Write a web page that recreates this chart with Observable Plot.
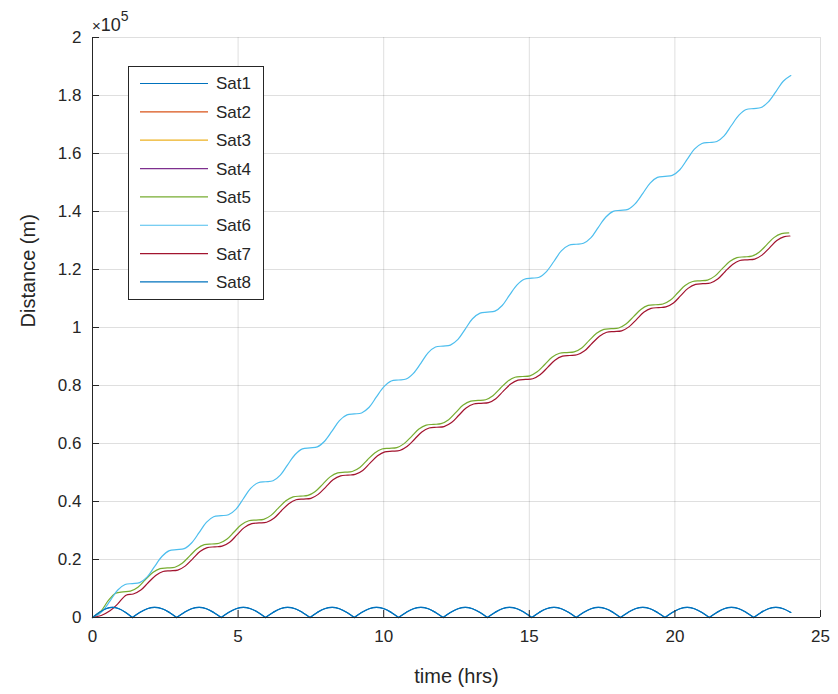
<!DOCTYPE html>
<html>
<head>
<meta charset="utf-8">
<script src="https://cdn.jsdelivr.net/npm/d3@7"></script>
<script src="https://cdn.jsdelivr.net/npm/@observablehq/plot@0.6"></script>
<style>
  html, body { margin: 0; padding: 0; background: #ffffff; }
  #chart { width: 838px; height: 694px; }
</style>
</head>
<body>
<div id="chart"></div>
<script>
// ---------- data ----------
const seriesNames = ["Sat1", "Sat2", "Sat3", "Sat4", "Sat5", "Sat6", "Sat7", "Sat8"];
const seriesColors = ["#0072BD", "#D95319", "#EDB120", "#7E2F8E", "#77AC30", "#4DBEEE", "#A2142F", "#0072BD"];
const xTicks = [0, 5, 10, 15, 20, 25];
const xTickLabels = ["0", "5", "10", "15", "20", "25"];
const yTicks = [0, 20000, 40000, 60000, 80000, 100000, 120000, 140000, 160000, 180000, 200000];
const yTickLabels = ["0", "0.2", "0.4", "0.6", "0.8", "1", "1.2", "1.4", "1.6", "1.8", "2"];

// time (hrs)
const sat6Time = [0, 0.10, 0.35, 0.61, 0.86, 1.12, 1.37, 1.62, 1.88, 2.13, 2.39, 2.64, 2.89, 3.15, 3.40, 3.66, 3.91, 4.16, 4.42, 4.67, 4.93, 5.18, 5.43, 5.69, 5.94, 6.20, 6.45, 6.70, 6.96, 7.21, 7.47, 7.72, 7.97, 8.23, 8.48, 8.74, 8.99, 9.24, 9.50, 9.75, 10.01, 10.26, 10.51, 10.77, 11.02, 11.28, 11.53, 11.78, 12.04, 12.29, 12.55, 12.80, 13.05, 13.31, 13.56, 13.82, 14.07, 14.32, 14.58, 14.83, 15.09, 15.34, 15.59, 15.85, 16.10, 16.36, 16.61, 16.86, 17.12, 17.37, 17.63, 17.88, 18.13, 18.39, 18.64, 18.90, 19.15, 19.40, 19.66, 19.91, 20.17, 20.42, 20.67, 20.93, 21.18, 21.44, 21.69, 21.94, 22.20, 22.45, 22.71, 22.96, 23.21, 23.47, 23.72, 23.98];
// distance (m)
const sat6Dist = [0, 340, 2290, 5850, 9410, 11360,
  11700, 12040, 13990, 17550, 21110, 23060,
  23400, 23740, 25690, 29250, 32810, 34760,
  35100, 35440, 37390, 40950, 44510, 46460,
  46800, 47140, 49090, 52650, 56210, 58160,
  58500, 58840, 60790, 64350, 67910, 69860,
  70200, 70540, 72490, 76050, 79610, 81560,
  81900, 82240, 84190, 87750, 91310, 93260,
  93600, 93940, 95890, 99450, 103010, 104960,
  105300, 105640, 107590, 111150, 114710, 116660,
  117000, 117340, 119290, 122850, 126410, 128360,
  128700, 129040, 130990, 134550, 138110, 140060,
  140400, 140740, 142690, 146250, 149810, 151760,
  152100, 152440, 154390, 157950, 161510, 163460,
  163800, 164140, 166090, 169650, 173210, 175160,
  175500, 175840, 177790, 181350, 184910, 186860];

const sat5Time = [0, 0.29, 0.54, 0.80,
  1.05, 1.30, 1.56, 1.81, 2.07, 2.32,
  2.57, 2.83, 3.08, 3.34, 3.59, 3.84,
  4.10, 4.35, 4.61, 4.86, 5.11, 5.37,
  5.62, 5.88, 6.13, 6.38, 6.64, 6.89,
  7.15, 7.40, 7.65, 7.91, 8.16, 8.42,
  8.67, 8.92, 9.18, 9.43, 9.69, 9.94,
  10.19, 10.45, 10.70, 10.96, 11.21, 11.46,
  11.72, 11.97, 12.23, 12.48, 12.73, 12.99,
  13.24, 13.50, 13.75, 14.00, 14.26, 14.51,
  14.77, 15.02, 15.27, 15.53, 15.78, 16.04,
  16.29, 16.54, 16.80, 17.05, 17.31, 17.56,
  17.81, 18.07, 18.32, 18.58, 18.83, 19.08,
  19.34, 19.59, 19.85, 20.10, 20.35, 20.61,
  20.86, 21.12, 21.37, 21.62, 21.88, 22.13,
  22.39, 22.64, 22.89, 23.15, 23.40, 23.66,
  23.91];
const sat5Dist = [0, 2200, 5800, 8400,
  8850, 9090, 10460, 12980, 15490, 16860,
  17100, 17340, 18710, 21230, 23740, 25110,
  25350, 25590, 26960, 29480, 31990, 33360,
  33600, 33840, 35210, 37730, 40240, 41610,
  41850, 42090, 43460, 45980, 48490, 49860,
  50100, 50340, 51710, 54230, 56740, 58110,
  58350, 58590, 59960, 62480, 64990, 66360,
  66600, 66840, 68210, 70730, 73240, 74610,
  74850, 75090, 76460, 78980, 81490, 82860,
  83100, 83340, 84710, 87230, 89740, 91110,
  91350, 91590, 92960, 95480, 97990, 99360,
  99600, 99840, 101210, 103730, 106240, 107610,
  107850, 108090, 109460, 111980, 114490, 115860,
  116100, 116340, 117710, 120230, 122740, 124110,
  124350, 124590, 125960, 128480, 130990, 132360,
  132600];

const sat7Time = [0, 0.30, 0.60, 0.86, 1.15,
  1.40, 1.66, 1.91, 2.17, 2.42,
  2.67, 2.93, 3.18, 3.44, 3.69, 3.94,
  4.20, 4.45, 4.71, 4.96, 5.21, 5.47,
  5.72, 5.98, 6.23, 6.48, 6.74, 6.99,
  7.25, 7.50, 7.75, 8.01, 8.26, 8.52,
  8.77, 9.02, 9.28, 9.53, 9.79, 10.04,
  10.29, 10.55, 10.80, 11.06, 11.31, 11.56,
  11.82, 12.07, 12.33, 12.58, 12.83, 13.09,
  13.34, 13.60, 13.85, 14.10, 14.36, 14.61,
  14.87, 15.12, 15.37, 15.63, 15.88, 16.14,
  16.39, 16.64, 16.90, 17.15, 17.41, 17.66,
  17.91, 18.17, 18.42, 18.68, 18.93, 19.18,
  19.44, 19.69, 19.95, 20.20, 20.45, 20.71,
  20.96, 21.22, 21.47, 21.72, 21.98, 22.23,
  22.49, 22.74, 22.99, 23.25, 23.50, 23.76,
  23.95];
const sat7Dist = [0, 700, 2300, 4600, 7700,
  8090, 9460, 11980, 14490, 15860,
  16100, 16340, 17710, 20230, 22740, 24110,
  24350, 24590, 25960, 28480, 30990, 32360,
  32600, 32840, 34210, 36730, 39240, 40610,
  40850, 41090, 42460, 44980, 47490, 48860,
  49100, 49340, 50710, 53230, 55740, 57110,
  57350, 57590, 58960, 61480, 63990, 65360,
  65600, 65840, 67210, 69730, 72240, 73610,
  73850, 74090, 75460, 77980, 80490, 81860,
  82100, 82340, 83710, 86230, 88740, 90110,
  90350, 90590, 91960, 94480, 96990, 98360,
  98600, 98840, 100210, 102730, 105240, 106610,
  106850, 107090, 108460, 110980, 113490, 114860,
  115100, 115340, 116710, 119230, 121740, 123110,
  123350, 123590, 124960, 127480, 129990, 131360,
  131550];

const sat1Time = [0, 0.23, 0.46, 0.69, 0.91, 1.14, 1.37, 1.62, 1.88, 2.13, 2.39, 2.64, 2.89, 3.15, 3.40, 3.66, 3.91, 4.16, 4.42, 4.67, 4.93, 5.18, 5.43, 5.69, 5.94, 6.20, 6.45, 6.70, 6.96, 7.21, 7.47, 7.72, 7.97, 8.23, 8.48, 8.74, 8.99, 9.24, 9.50, 9.75, 10.01, 10.26, 10.51, 10.77, 11.02, 11.28, 11.53, 11.78, 12.04, 12.29, 12.55, 12.80, 13.05, 13.31, 13.56, 13.82, 14.07, 14.32, 14.58, 14.83, 15.09, 15.34, 15.59, 15.85, 16.10, 16.36, 16.61, 16.86, 17.12, 17.37, 17.63, 17.88, 18.13, 18.39, 18.64, 18.90, 19.15, 19.40, 19.66, 19.91, 20.17, 20.42, 20.67, 20.93, 21.18, 21.44, 21.69, 21.94, 22.20, 22.45, 22.71, 22.96, 23.21, 23.47, 23.72, 23.98];
const sat1Dist = [0, 1750, 3030, 3500, 3030, 1750,
  0, 1750, 3030, 3500, 3030, 1750,
  0, 1750, 3030, 3500, 3030, 1750,
  0, 1750, 3030, 3500, 3030, 1750,
  0, 1750, 3030, 3500, 3030, 1750,
  0, 1750, 3030, 3500, 3030, 1750,
  0, 1750, 3030, 3500, 3030, 1750,
  0, 1750, 3030, 3500, 3030, 1750,
  0, 1750, 3030, 3500, 3030, 1750,
  0, 1750, 3030, 3500, 3030, 1750,
  0, 1750, 3030, 3500, 3030, 1750,
  0, 1750, 3030, 3500, 3030, 1750,
  0, 1750, 3030, 3500, 3030, 1750,
  0, 1750, 3030, 3500, 3030, 1750,
  0, 1750, 3030, 3500, 3030, 1750,
  0, 1750, 3030, 3500, 3030, 1750];
const sat8Time = sat1Time;
const sat8Dist = sat1Dist;

const sat2Time = [0, 23.95];
const sat2Dist = [0, 0];
const sat3Time = [0, 23.95];
const sat3Dist = [0, 0];
const sat4Time = [0, 23.95];
const sat4Dist = [0, 0];

// ---------- build rows ----------
const seriesTimes = [sat1Time, sat2Time, sat3Time, sat4Time, sat5Time, sat6Time, sat7Time, sat8Time];
const seriesDists = [sat1Dist, sat2Dist, sat3Dist, sat4Dist, sat5Dist, sat6Dist, sat7Dist, sat8Dist];
const rows = [];
seriesNames.forEach((name, s) => {
  const T = seriesTimes[s], D = seriesDists[s];
  // split oscillating series at their zero touches so the cusps stay sharp
  let seg = 0;
  for (let i = 0; i < T.length; i++) {
    rows.push({name, seg: name + "-" + seg, t: T[i], d: D[i]});
    if (D[i] === 0 && i > 0 && i < T.length - 1 && D[i - 1] !== 0) {
      seg++;
      rows.push({name, seg: name + "-" + seg, t: T[i], d: D[i]});
    }
  }
});

const ink = "#262626";
const font = "'Liberation Sans', Arial, Helvetica, sans-serif";

const plot = Plot.plot({
  width: 838,
  height: 694,
  marginLeft: 92,
  marginRight: 18,
  marginTop: 37,
  marginBottom: 77,
  style: {fontFamily: font, background: "#ffffff", color: ink, overflow: "visible"},
  x: {domain: [0, 25]},
  y: {domain: [0, 200000]},
  color: {domain: seriesNames, range: seriesColors},
  marks: [
    Plot.gridX(xTicks, {stroke: ink, strokeOpacity: 0.15, strokeWidth: 1}),
    Plot.gridY(yTicks, {stroke: ink, strokeOpacity: 0.15, strokeWidth: 1}),
    Plot.line(rows, {x: "t", y: "d", z: "seg", stroke: "name", curve: "catmull-rom", strokeWidth: 1.2}),
    Plot.ruleX([0], {stroke: ink, strokeWidth: 1}),
    Plot.ruleY([0], {stroke: ink, strokeWidth: 1}),
    // inward tick marks
    Plot.axisY(yTicks, {anchor: "left", tickSize: 7, dx: 7, stroke: ink, tickFormat: () => "", label: null}),
    Plot.axisX(xTicks, {anchor: "bottom", tickSize: 7, dy: -7, stroke: ink, tickFormat: () => "", label: null}),
    // tick labels
    Plot.axisY(yTicks, {anchor: "left", tickSize: 0, tickPadding: 11, fontSize: 17, fill: ink,
      tickFormat: d => yTickLabels[yTicks.indexOf(d)], label: null}),
    Plot.axisX(xTicks, {anchor: "bottom", tickSize: 0, tickPadding: 12, fontSize: 17, fill: ink,
      tickFormat: d => xTickLabels[xTicks.indexOf(d)], label: null}),
    // axis titles
    Plot.text(["time (hrs)"], {text: d => d, frameAnchor: "bottom", dy: 59, fontSize: 20, fill: ink, lineAnchor: "middle"}),
    Plot.text(["Distance (m)"], {text: d => d, frameAnchor: "left", dx: -64, rotate: -90, fontSize: 20, fill: ink, lineAnchor: "middle"})
  ]
});

document.getElementById("chart").appendChild(plot);

// ---------- exponent label and legend ----------
const svg = d3.select(plot);
const expo = svg.append("text")
  .attr("x", 92).attr("y", 31)
  .attr("text-anchor", "start")
  .attr("font-family", font).attr("font-size", 18).attr("fill", ink);
expo.append("tspan").attr("font-size", 15).text("\u00d7");
expo.append("tspan").text("10");
expo.append("tspan").attr("dy", -10).attr("font-size", 14).text("5");

const lg = svg.append("g").attr("class", "legend").attr("text-anchor", "start");
lg.append("rect")
  .attr("x", 128.5).attr("y", 66.5).attr("width", 135).attr("height", 233)
  .attr("fill", "#ffffff").attr("stroke", ink).attr("stroke-width", 1);
seriesNames.forEach((name, i) => {
  const y = 83.5 + i * 28.35;
  lg.append("line")
    .attr("x1", 140).attr("x2", 208).attr("y1", y).attr("y2", y)
    .attr("stroke", seriesColors[i]).attr("stroke-width", 1.2);
  lg.append("text")
    .attr("x", 216).attr("y", y).attr("dy", "0.35em")
    .attr("text-anchor", "start")
    .attr("font-family", font).attr("font-size", 17).attr("fill", ink)
    .text(name);
});
</script>
</body>
</html>
